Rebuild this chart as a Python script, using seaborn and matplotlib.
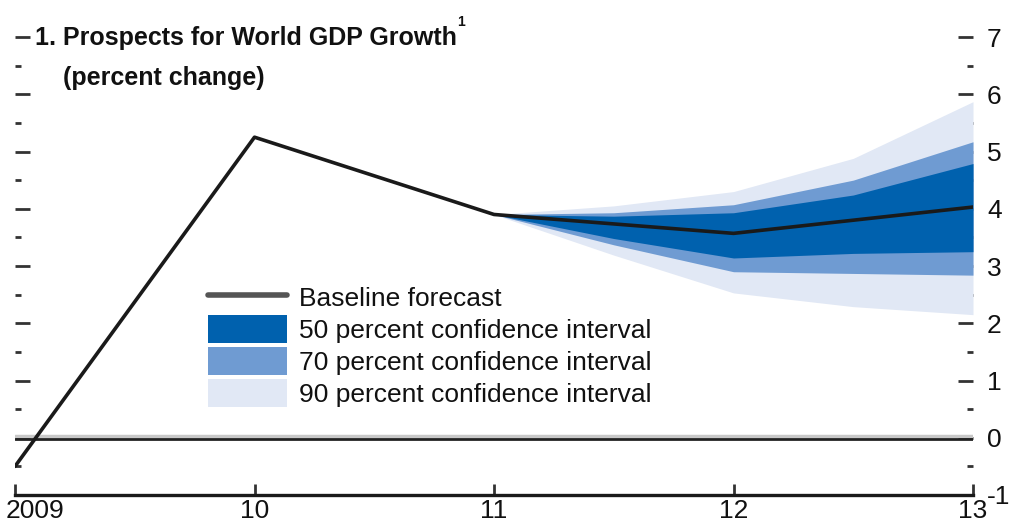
import matplotlib
matplotlib.use("Agg")
import matplotlib.pyplot as plt
import matplotlib.transforms as mtransforms
import seaborn as sns
import pandas as pd
from matplotlib.lines import Line2D
from matplotlib.patches import Patch
from matplotlib.ticker import MultipleLocator

# Baseline forecast of world GDP growth (percent change)
years = [2009, 2010, 2011, 2012, 2013]
baseline = [-0.5, 5.25, 3.9, 3.57, 4.03]
year_labels = ["2009", "10", "11", "12", "13"]

# Fan chart bounds around the forecast
fan_x = [2011, 2011.5, 2012, 2012.5, 2013]
ci50_lo = [3.9, 3.48, 3.14, 3.22, 3.25]
ci50_hi = [3.9, 3.87, 3.93, 4.24, 4.79]
ci70_lo = [3.9, 3.37, 2.90, 2.87, 2.84]
ci70_hi = [3.9, 3.93, 4.07, 4.50, 5.17]
ci90_lo = [3.9, 3.19, 2.53, 2.29, 2.15]
ci90_hi = [3.9, 4.05, 4.30, 4.88, 5.87]

legend_labels = ["Baseline forecast", "50 percent confidence interval",
                 "70 percent confidence interval", "90 percent confidence interval"]

c50, c70, c90 = "#0061ae", "#6f9bd2", "#e1e8f5"

sns.set_style("white")
plt.rcParams["font.family"] = ["Liberation Sans", "DejaVu Sans"]
plt.rcParams["axes.unicode_minus"] = False
plt.rcParams["text.color"] = "#111111"

fig = plt.figure(figsize=(10.12, 5.27), dpi=100)
ax = fig.add_axes([15 / 1012, 32 / 527, (973 - 15) / 1012, (495 - 37) / 527])

ax.fill_between(fan_x, ci90_lo, ci90_hi, color=c90, lw=0)
ax.fill_between(fan_x, ci70_lo, ci70_hi, color=c70, lw=0)
ax.fill_between(fan_x, ci50_lo, ci50_hi, color=c50, lw=0)

ax.axhline(0.03, color="#c8c8c8", lw=2.5, zorder=2)
ax.axhline(-0.02, color="#222222", lw=2, zorder=2)

df = pd.DataFrame({"year": years, "growth": baseline})
sns.lineplot(data=df, x="year", y="growth", color="#1a1a1a", lw=2.6, ax=ax, zorder=3)

ax.set_xlim(2009, 2013)
ax.set_ylim(-1, 7)
ax.set_xlabel("")
ax.set_ylabel("")

ax.set_xticks(years)
ax.set_xticklabels(year_labels)
ax.yaxis.set_major_locator(MultipleLocator(1))
ax.yaxis.set_minor_locator(MultipleLocator(0.5))

for s in ["top", "left", "right"]:
    ax.spines[s].set_visible(False)
ax.spines["bottom"].set_linewidth(2.4)
ax.spines["bottom"].set_color("#1a1a1a")

ax.tick_params(axis="x", direction="in", length=8, width=2, color="#333333",
               labelsize=19, labelcolor="#111111", pad=3, bottom=True)
ax.tick_params(axis="y", which="major", direction="in", length=11, width=2,
               color="#333333", left=True, right=True, labelleft=False,
               labelright=True, labelsize=19, labelcolor="#111111", pad=10)
ax.tick_params(axis="y", which="minor", direction="in", length=4, width=2,
               color="#333333", left=True, right=True)

# keep the first year label inside the figure
first = ax.get_xticklabels()[0]
first.set_horizontalalignment("left")
first.set_transform(first.get_transform() +
                    mtransforms.ScaledTranslation(-9 / 100, 0, fig.dpi_scale_trans))

handles = [Line2D([0], [0], color="#555555", lw=4),
           Patch(facecolor=c50, edgecolor="none"),
           Patch(facecolor=c70, edgecolor="none"),
           Patch(facecolor=c90, edgecolor="none")]
fig.legend(handles, legend_labels, loc="upper left",
           bbox_to_anchor=(195 / 1012, 1 - 270 / 527), frameon=False,
           fontsize=19, handlelength=3.0, handleheight=1.25,
           labelspacing=0.15, handletextpad=0.45, borderpad=0)

fig.text(35 / 1012, 1 - 38 / 527, "1. Prospects for World GDP Growth",
         fontsize=18, fontweight="bold", va="center", ha="left")
fig.text(457 / 1012, 1 - 22 / 527, "1", fontsize=10, fontweight="bold",
         va="center", ha="left")
fig.text(63 / 1012, 1 - 78 / 527, "(percent change)",
         fontsize=18, fontweight="bold", va="center", ha="left")

fig.savefig("out.png", dpi=100)
